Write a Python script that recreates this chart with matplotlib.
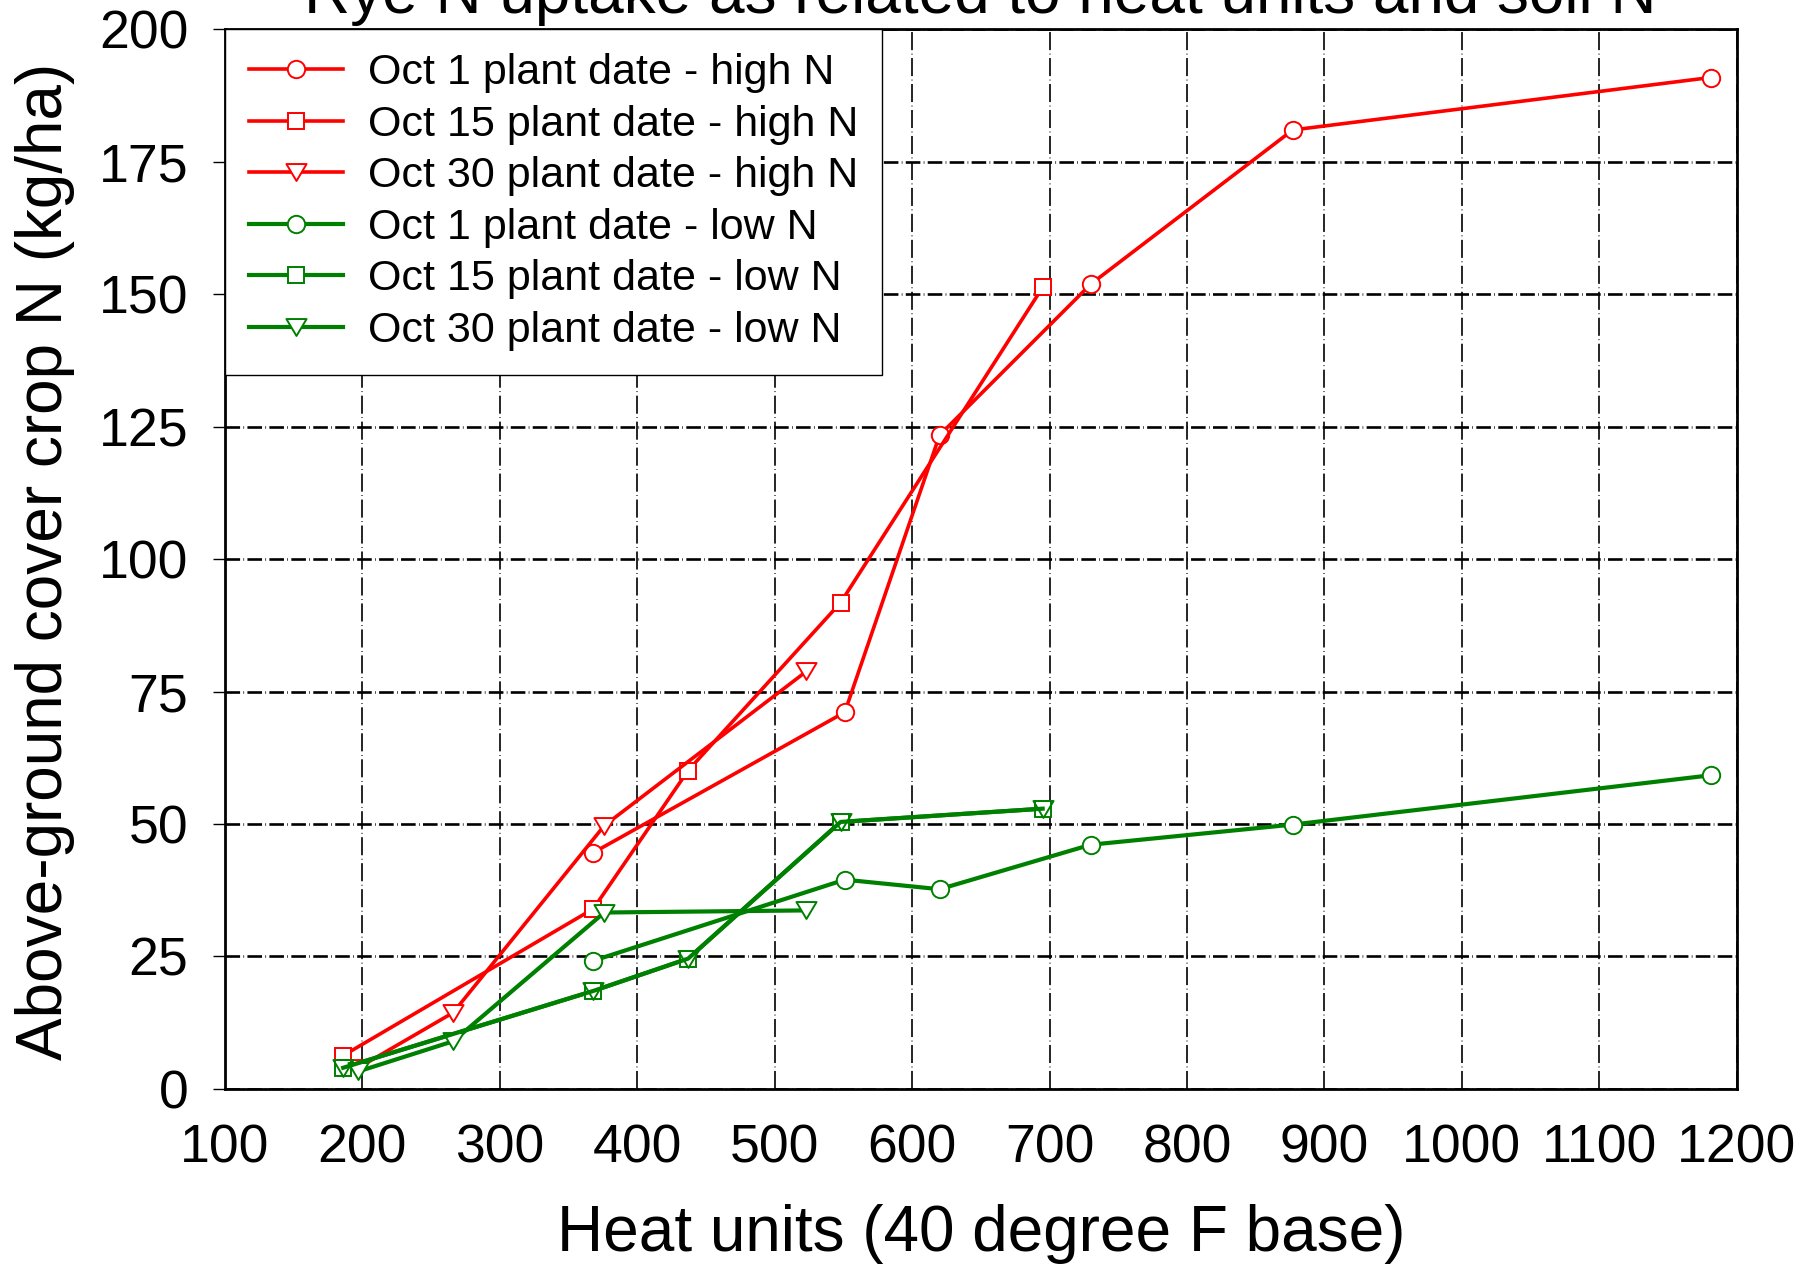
import matplotlib.pyplot as plt
from matplotlib.path import Path

plt.rcParams['font.family'] = ['Liberation Sans', 'DejaVu Sans']
plt.rcParams['lines.scale_dashes'] = False

# heat units (40 F base) at each sampling, by planting date
hu_oct1 = [368, 551, 620, 730, 877, 1181]
hu_oct15 = [186, 368, 437, 548, 695]
hu_oct30 = [197, 266, 376, 523]

# above-ground rye N (kg/ha)
n_oct1_high = [44.6, 71.1, 123.4, 151.9, 181.0, 190.9]
n_oct15_high = [6.3, 34.0, 60.1, 91.8, 151.3]
n_oct30_high = [4.0, 14.4, 49.7, 78.8]
n_oct1_low = [24.2, 39.5, 37.7, 46.1, 49.9, 59.2]
n_oct15_low = [4.0, 18.5, 24.6, 50.4, 52.9]
n_oct30_low = [3.3, 9.0, 33.3, 33.7]

x_ticks = list(range(100, 1201, 100))
y_ticks = list(range(0, 201, 25))

red = '#ff0000'
green = '#008000'

# open downward triangle, a bit wider than tall
tri = Path([(-1, 0.84), (1, 0.84), (0, -0.84), (-1, 0.84)],
           [Path.MOVETO, Path.LINETO, Path.LINETO, Path.CLOSEPOLY])

fig = plt.figure(figsize=(18, 12.68), dpi=100)
ax = fig.add_axes([0.125, 0.1412, 0.8398, 0.8357])

series = [
    (hu_oct1, n_oct1_high, red, 'o', 12.5, 'Oct 1 plant date - high N'),
    (hu_oct15, n_oct15_high, red, 's', 12.0, 'Oct 15 plant date - high N'),
    (hu_oct30, n_oct30_high, red, tri, 14.5, 'Oct 30 plant date - high N'),
    (hu_oct1, n_oct1_low, green, 'o', 12.5, 'Oct 1 plant date - low N'),
    (hu_oct15, n_oct15_low, green, 's', 12.0, 'Oct 15 plant date - low N'),
    (hu_oct30, n_oct30_low, green, tri, 14.5, 'Oct 30 plant date - low N'),
]
for x, y, c, m, ms, lab in series:
    lw = 2.6 if c == red else 3.0
    ax.plot(x, y, color=c, lw=lw, marker=m, ms=ms, mfc='white', mec=c,
            mew=1.4, label=lab)

# the low N Oct 15 points carry a triangle on top of the square as well
ax.plot(hu_oct15, n_oct15_low, color=green, lw=3.0, marker=tri, ms=14.5,
        mfc='none', mec=green, mew=1.4)

ax.set_xlim(100, 1200)
ax.set_ylim(0, 200)
ax.set_xticks(x_ticks)
ax.set_yticks(y_ticks)

ax.set_axisbelow(True)
ax.grid(axis='y', color='black', lw=1.9, linestyle=(0, (10.5, 2.4, 0.5, 2.4)))
ax.grid(axis='x', color='black', lw=1.2, linestyle=(0, (13, 2.6, 0.5, 2.6)))

for sp in ax.spines.values():
    sp.set_linewidth(2.0)

ax.tick_params(axis='y', direction='out', length=8.5, width=1.0,
               labelsize=38.5, pad=18)
ax.tick_params(axis='x', length=0, labelsize=38.5, pad=25)

ax.set_xlabel('Heat units (40 degree F base)', fontsize=46)
ax.set_ylabel('Above-ground cover crop N (kg/ha)', fontsize=46)
ax.xaxis.set_label_coords(0.5, -0.137)
ax.xaxis.label.set_va('center')
ax.yaxis.set_label_coords(-0.119, 0.498)
ax.yaxis.label.set_va('center')

fig.text(0.5445, 1 - 13 / 1268, 'Rye N uptake as related to heat units and soil N',
         ha='center', va='baseline', fontsize=46)

leg = ax.legend(loc='upper left', bbox_to_anchor=(0, 1), borderaxespad=0,
                fontsize=31, handlelength=2.2, handletextpad=0.58,
                labelspacing=0.27, borderpad=0.55, fancybox=False,
                edgecolor='black', framealpha=1)
leg.get_frame().set_linewidth(1.0)

fig.savefig('out.png', dpi=100)
